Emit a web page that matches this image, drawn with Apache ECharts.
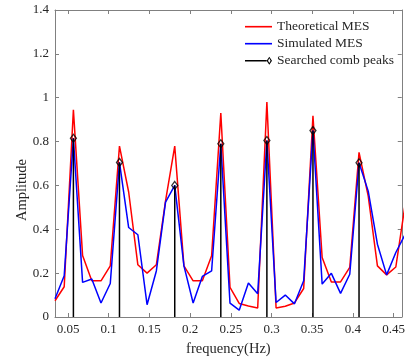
<!DOCTYPE html>
<html>
<head>
<meta charset="utf-8">
<script src="https://cdn.jsdelivr.net/npm/echarts@6/dist/echarts.min.js"></script>
<style>html,body{margin:0;padding:0;background:#fff;}#c{width:408px;height:362px;}</style>
</head>
<body>
<div id="c"></div>
<script>
// frequency bins (Hz)
var freq = [0.0340,0.0453,0.0566,0.0679,0.0792,0.0905,0.1019,0.1132,0.1245,0.1358,
            0.1471,0.1585,0.1698,0.1811,0.1924,0.2037,0.2150,0.2264,0.2377,0.2490,
            0.2603,0.2716,0.2830,0.2943,0.3056,0.3169,0.3282,0.3395,0.3509,0.3622,
            0.3735,0.3848,0.3961,0.4075,0.4188,0.4301,0.4414,0.4527,0.4640];
var theoretical = [0.074,0.138,0.945,0.280,0.165,0.165,0.233,0.779,0.570,0.238,
                   0.200,0.238,0.530,0.779,0.233,0.165,0.165,0.279,0.930,0.135,
                   0.062,0.050,0.041,0.980,0.041,0.049,0.064,0.130,0.918,0.271,
                   0.160,0.160,0.226,0.751,0.551,0.233,0.192,0.228,0.510];
var simulated = [0.083,0.188,0.815,0.158,0.173,0.064,0.153,0.705,0.408,0.375,
                 0.056,0.210,0.524,0.600,0.233,0.064,0.185,0.210,0.790,0.063,
                 0.031,0.155,0.106,0.805,0.066,0.100,0.060,0.165,0.850,0.150,
                 0.199,0.108,0.195,0.703,0.574,0.332,0.192,0.294,0.375];
var peakFreq = [0.0566,0.1132,0.1811,0.2377,0.2943,0.3509,0.4075];
var peakAmp  = [0.815,0.705,0.600,0.790,0.805,0.850,0.703];
var xTicks = [0.05,0.1,0.15,0.2,0.25,0.3,0.35,0.4,0.45];
var xMin = 0.034, xMax = 0.46, yMin = 0, yMax = 1.4, yStep = 0.2;

var FONT = 'Liberation Serif';
var AX = '#808080', TXT = '#262626';

function pairs(xs, ys){ return xs.map(function(x,i){ return [x, ys[i]]; }); }

var chart = echarts.init(document.getElementById('c'), null, {renderer:'canvas'});
var lineIcon = 'path://M0,4.6L30,4.6L30,6.4L0,6.4Z';
var diamondIcon = 'path://M0,4.6L24,4.6L24,6.4L0,6.4Z M27,1L30,5.5L27,10L24,5.5Z M27,2.9L25.6,5.5L27,8.1L28.4,5.5Z';

chart.setOption({
  animation:false,
  backgroundColor:'#fff',
  grid:{left:55, right:3, top:10, bottom:44, containLabel:false},
  legend:{
    orient:'vertical', left:240, top:14.7, itemWidth:27, itemHeight:10, itemGap:3,
    textStyle:{fontFamily:FONT, fontSize:13.5, color:TXT, lineHeight:14},
    data:[
      {name:'Theoretical MES', icon:lineIcon, itemStyle:{color:'#ff0000', borderWidth:0}},
      {name:'Simulated MES', icon:lineIcon, itemStyle:{color:'#0000ff', borderWidth:0}},
      {name:'Searched comb peaks', icon:diamondIcon, itemStyle:{color:'#000', borderWidth:0}}
    ]
  },
  graphic:[{
    type:'text', x:22, y:190, rotation:Math.PI/2,
    style:{text:'Amplitude', font:'14.5px "Liberation Serif"', fill:TXT, align:'center', verticalAlign:'middle'}
  }],
  xAxis:[{
    type:'value', min:xMin, max:xMax, position:'bottom',
    name:'frequency(Hz)', nameLocation:'middle', nameGap:25,
    nameTextStyle:{fontFamily:FONT, fontSize:14.5, color:TXT},
    axisLine:{show:true, onZero:false, lineStyle:{color:AX, width:1}},
    axisTick:{show:true, inside:true, length:4, customValues:xTicks, lineStyle:{color:AX}},
    axisLabel:{show:true, customValues:xTicks, margin:6, fontFamily:FONT, fontSize:13, color:TXT},
    splitLine:{show:false}
  },{
    type:'value', min:xMin, max:xMax, position:'top',
    axisLine:{show:true, onZero:false, lineStyle:{color:AX, width:1}},
    axisTick:{show:true, inside:true, length:4, customValues:xTicks, lineStyle:{color:AX}},
    axisLabel:{show:false},
    splitLine:{show:false}
  }],
  yAxis:[{
    type:'value', min:yMin, max:yMax, interval:yStep, position:'left',
    axisLine:{show:true, onZero:false, lineStyle:{color:AX, width:1}},
    axisTick:{show:true, inside:true, length:4, lineStyle:{color:AX}},
    axisLabel:{margin:6, fontFamily:FONT, fontSize:13, color:TXT},
    splitLine:{show:false}
  },{
    type:'value', min:yMin, max:yMax, interval:yStep, position:'right',
    axisLine:{show:true, onZero:false, lineStyle:{color:AX, width:1}},
    axisTick:{show:true, inside:true, length:4, lineStyle:{color:AX}},
    axisLabel:{show:false},
    splitLine:{show:false}
  }],
  series:[
    {name:'Theoretical MES', type:'line', data:pairs(freq, theoretical), symbol:'none',
     lineStyle:{color:'#ff0000', width:1.5}, itemStyle:{color:'#ff0000'}, clip:true, z:2},
    {name:'Simulated MES', type:'line', data:pairs(freq, simulated), symbol:'none',
     lineStyle:{color:'#0000ff', width:1.5}, itemStyle:{color:'#0000ff'}, clip:true, z:3},
    {name:'Searched comb peaks', type:'custom', data:pairs(peakFreq, peakAmp), z:4,
     renderItem:function(params, api){
       var top = api.coord([api.value(0), api.value(1)]);
       var bot = api.coord([api.value(0), 0]);
       return {type:'line', shape:{x1:top[0], y1:top[1], x2:bot[0], y2:bot[1]},
               style:{stroke:'#000', lineWidth:1.5}};
     }, itemStyle:{color:'#000'}},
    {name:'Searched comb peaks', type:'scatter', data:pairs(peakFreq, peakAmp), z:5,
     symbol:'diamond', symbolSize:[6,8],
     itemStyle:{color:'rgba(255,255,255,0)', borderColor:'#000', borderWidth:1.3}}
  ]
});
</script>
</body>
</html>
